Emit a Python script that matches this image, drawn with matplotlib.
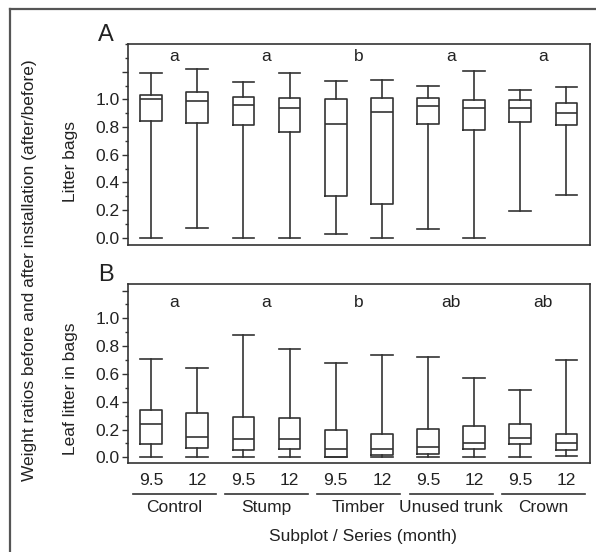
import matplotlib
matplotlib.use('Agg')
import matplotlib.pyplot as plt
from matplotlib.ticker import MultipleLocator

plt.rcParams['font.family'] = ['Liberation Sans', 'DejaVu Sans']
plt.rcParams['font.size'] = 12.5

# 데이터
groups = ['Control', 'Stump', 'Timber', 'Unused trunk', 'Crown']
months = ['9.5', '12']
letters_a = ['a', 'a', 'b', 'a', 'a']
letters_b = ['a', 'a', 'b', 'ab', 'ab']

# A: Litter bags
a_low = [0.0, 0.067, 0.0, 0.0, 0.026, 0.0, 0.062, 0.0, 0.195, 0.308]
a_q1 = [0.84, 0.827, 0.815, 0.764, 0.303, 0.24, 0.822, 0.78, 0.834, 0.815]
a_med = [1.0, 0.988, 0.959, 0.937, 0.82, 0.911, 0.954, 0.937, 0.937, 0.901]
a_q3 = [1.034, 1.053, 1.017, 1.01, 1.002, 1.01, 1.01, 0.998, 0.998, 0.976]
a_high = [1.19, 1.216, 1.127, 1.19, 1.135, 1.139, 1.096, 1.204, 1.065, 1.091]

# B: Leaf litter in bags
b_low = [0.0, 0.0, 0.0, 0.0, 0.0, 0.0, 0.0, 0.0, 0.0, 0.007]
b_q1 = [0.094, 0.065, 0.05, 0.058, 0.005, 0.017, 0.024, 0.058, 0.096, 0.053]
b_med = [0.237, 0.146, 0.132, 0.134, 0.062, 0.062, 0.077, 0.10, 0.139, 0.105]
b_q3 = [0.338, 0.317, 0.293, 0.28, 0.199, 0.165, 0.204, 0.228, 0.24, 0.17]
b_high = [0.705, 0.643, 0.88, 0.78, 0.676, 0.739, 0.724, 0.573, 0.482, 0.70]

col = '#333333'
tcol = '#222222'
fs = 12.5
W, H = 596, 552
fig = plt.figure(figsize=(W / 100, H / 100), dpi=100)


def make_stats(low, q1, med, q3, high):
    return [dict(whislo=low[i], q1=q1[i], med=med[i], q3=q3[i], whishi=high[i], fliers=[])
            for i in range(len(med))]


def draw_panel(rect, stats, ylim, letters, letter_y, ylabel, ylabel_y, tag, tag_y):
    ax = fig.add_axes(rect)
    pos = list(range(1, len(stats) + 1))
    props = dict(color=col, linewidth=1.2)
    ax.bxp(stats, positions=pos, widths=0.47, capwidths=0.47, showfliers=False,
           boxprops=props, whiskerprops=props, capprops=props, medianprops=props,
           manage_ticks=False)
    ax.set_xlim(0.5, 10.5)
    ax.set_ylim(*ylim)
    ax.set_yticks([0, 0.2, 0.4, 0.6, 0.8, 1.0, 1.2])
    ax.set_yticklabels(['0.0', '0.2', '0.4', '0.6', '0.8', '1.0', ''])
    ax.yaxis.set_minor_locator(MultipleLocator(0.1))
    ax.yaxis.set_minor_formatter(plt.NullFormatter())
    ax.tick_params(axis='y', which='major', length=4, width=1, color=col, pad=2,
                   labelsize=fs, labelcolor=tcol)
    ax.tick_params(axis='y', which='minor', length=2, width=1, color=col)
    for s in ax.spines.values():
        s.set_color(col)
        s.set_linewidth(1.2)
    for i, t in enumerate(letters):
        ax.text(2 * i + 1.5, letter_y, t, ha='center', va='center', fontsize=fs, color=tcol)
    fig.text(70.5 / W, 1 - ylabel_y / H, ylabel, rotation=90, ha='center', va='center',
             fontsize=fs, color=tcol)
    fig.text(106 / W, 1 - tag_y / H, tag, ha='center', va='center', fontsize=17, color=tcol)
    return ax


axA = draw_panel([128 / W, 1 - 245 / H, 461.5 / W, 201 / H],
                 make_stats(a_low, a_q1, a_med, a_q3, a_high),
                 (-0.053, 1.40), letters_a, 1.31, 'Litter bags', 162, 'A', 35)
axA.set_xticks([])

axB = draw_panel([128 / W, 1 - 463 / H, 461.5 / W, 179 / H],
                 make_stats(b_low, b_q1, b_med, b_q3, b_high),
                 (-0.041, 1.247), letters_b, 1.112, 'Leaf litter in bags', 389, 'B', 275)
axB.set_xticks(range(1, 11))
axB.set_xticklabels(months * len(groups))
axB.tick_params(axis='x', length=0, pad=7, labelsize=fs, labelcolor=tcol)

# 그룹 밑줄과 이름
trans = axB.get_xaxis_transform()
for i, g in enumerate(groups):
    c = 2 * i + 1.5
    axB.plot([c - 0.9, c + 0.9], [-0.173, -0.173], color=col, lw=1.2,
             transform=trans, clip_on=False)
    axB.text(c, -0.246, g, ha='center', va='center', fontsize=fs, transform=trans,
             color=tcol)

fig.text(362.5 / W, 1 - 536 / H, 'Subplot / Series (month)', ha='center', va='center',
         fontsize=fs, color=tcol)
fig.text(30 / W, 1 - 270 / H, 'Weight ratios before and after installation (after/before)',
         rotation=90, ha='center', va='center', fontsize=fs, color=tcol)

# 바깥 테두리 (위, 왼쪽)
fig.add_artist(plt.Line2D([10 / W, 10 / W], [0, 1 - 8.5 / H], color='#555555', lw=1.6))
fig.add_artist(plt.Line2D([10 / W, 1], [1 - 8.5 / H, 1 - 8.5 / H], color='#555555', lw=1.6))

fig.savefig('out.png', dpi=100)
